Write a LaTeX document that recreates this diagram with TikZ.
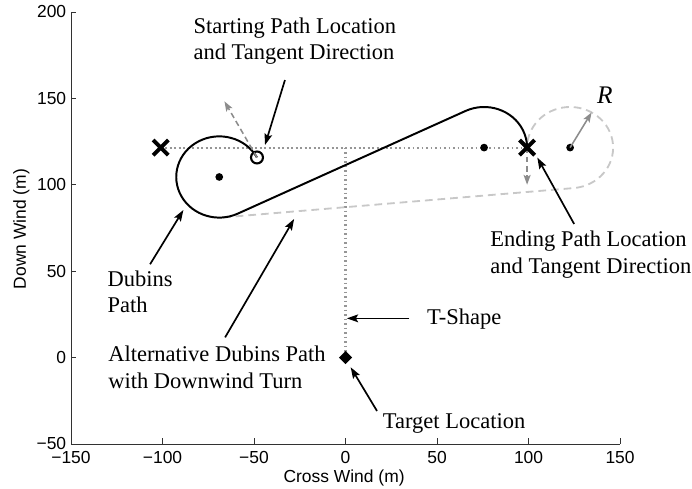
\documentclass[tikz,border=0pt]{standalone}
\usepackage{fontspec}
\setmainfont{Liberation Serif}
\setsansfont{Liberation Sans}
\usetikzlibrary{arrows.meta,calc,shapes.geometric,shapes.misc}
\definecolor{axisgrey}{RGB}{50,50,50}
\definecolor{guidegrey}{RGB}{150,150,150}
\definecolor{tangrey}{RGB}{140,140,140}
\definecolor{altgrey}{RGB}{200,200,200}

\begin{document}
\begin{tikzpicture}[x=0.04575cm,y=0.0432cm,
  font=\fontsize{16}{18.85}\selectfont,
  axisline/.style={draw=axisgrey,line width=0.6pt},
  ticklbl/.style={font=\sffamily\fontsize{12.4}{14}\selectfont,inner sep=0pt},
  axlbl/.style={font=\sffamily\fontsize{12.4}{14}\selectfont,inner sep=0pt,anchor=base},
  note/.style={anchor=base west,inner sep=0pt,align=left},
  pointer/.style={-{Stealth[length=8pt,width=5.5pt,inset=1.5pt]},line width=1.2pt},
  tangent/.style={-{Stealth[length=7pt,width=5pt,inset=1.5pt]},line width=1.1pt,
                  draw=tangrey,dash pattern=on 4pt off 2.5pt},
  dubins/.style={line width=1.4pt},
  altpath/.style={line width=1.3pt,draw=altgrey,dash pattern=on 5.5pt off 3.5pt},
  guide/.style={draw=guidegrey,line width=1.5pt,dash pattern=on 1.3pt off 1.9pt},
  xmark/.style={cross out,draw,line width=2.8pt,minimum size=8pt,inner sep=0pt},
  ctr/.style={circle,fill,inner sep=0pt,minimum size=5.5pt},
  startmark/.style={circle,draw,line width=1.5pt,inner sep=0pt,minimum size=8.5pt},
  tgt/.style={diamond,fill,inner sep=0pt,minimum size=9.5pt}]

\useasboundingbox (-188.8,-75.5) rectangle (189.3,206.9);

% axes, left and bottom only
\draw[axisline] (-150,200) -- (-150,-50) -- (150,-50);
\foreach \xv/\xt in {-150/−150,-100/−100,-50/−50,0/0,50/50,100/100,150/150} {
  \draw[axisline] (\xv,-50) -- ++(0,3.2);
  \node[ticklbl] at (\xv,-58.1) {\xt};
}
\foreach \yv/\yt in {-50/−50,0/0,50/50,100/100,150/150,200/200} {
  \draw[axisline] (-150,\yv) -- ++(3,0);
  \node[ticklbl,anchor=east] at (-152.5,\yv) {\yt};
}
\node[axlbl] (xlab) at (-0.8,-72) {Cross Wind (m)};
\node[axlbl,rotate=90] (ylab) at (-174.6,74.4) {Down Wind (m)};

% turn circles, radius 23.5
\coordinate (c1) at (-69,104.5);
\coordinate (c2) at (75.7,121.5);
\coordinate (c3) at (122.7,121.5);

% T-shape guide
\coordinate (tjoin) at (0,121.5);
\draw[guide] (-101,121.5) -- (99.2,121.5);
\draw[guide] (tjoin) -- (0,0);

% alternative path with the downwind turn
\draw[altpath] ($(c1)+(-84.9:23.5)$) -- ($(c3)+(-84.9:23.5)$)
  arc[start angle=-84.9,end angle=180,radius=23.5];

% dubins path
\draw[dubins] ($(c1)+(28.7:23.5)$)
  arc[start angle=28.7,end angle=295.5,radius=23.5]
  -- ($(c2)+(115.5:23.5)$)
  arc[start angle=115.5,end angle=0,radius=23.5];

% tangent directions and turn radius
\node[startmark] (start) at ($(c1)+(28.7:23.5)$) {};
\draw[tangent] (start.center) -- ++(118.7:37);
\draw[tangent] (99.2,121.5) -- ++(0,-21.5);
\node[ctr] (o1) at (c1) {};
\node[ctr] (o2) at (c2) {};
\node[ctr] (o3) at (c3) {};
\draw[-{Stealth[length=7pt,width=5pt,inset=1.5pt]},line width=1.1pt,draw=tangrey]
  (o3.center) -- ++(60:23.5);
\node[anchor=base west,inner sep=0pt,font=\itshape\fontsize{18}{20}\selectfont]
  (rlab) at (137.3,147.1) {R};

\node[xmark] (xa) at (-101,121.5) {};
\node[xmark] (xb) at (99.2,121.5) {};
\node[tgt] (target) at (0,0) {};

% labels and pointers (multi-line labels sit on their last baseline)
\node[note] (startlab) at (-83.2,172.2) {Starting Path Location\\and Tangent Direction};
\node[note] (dublab) at (-130.2,25.8) {Dubins\\Path};
\node[note] (altlab) at (-129.8,-17.6) {Alternative Dubins Path\\with Downwind Turn};
\node[note] (endlab) at (79.0,48.8) {Ending Path Location\\and Tangent Direction};
\node[note] (tlab) at (44.4,18.9) {T-Shape};
\node[note] (tgtlab) at (20.3,-40.9) {Target Location};

\coordinate (p1a) at (-33.1,160.6);  \coordinate (p1b) at (-44.0,123.0);
\coordinate (p2a) at (-106.8,54.0);  \coordinate (p2b) at (-88.6,85.4);
\coordinate (p3a) at (-65.8,11.7);   \coordinate (p3b) at (-28.1,80.2);
\coordinate (p4a) at (34.9,22.7);    \coordinate (p4b) at (0.7,22.7);
\coordinate (p5a) at (17.2,-30.9);   \coordinate (p5b) at (2.8,-5.6);
\coordinate (p6a) at (124.9,77.3);   \coordinate (p6b) at (104.8,115.7);
\foreach \k in {1,...,6} \draw[pointer] (p\k a) -- (p\k b);
\end{tikzpicture}
\end{document}
